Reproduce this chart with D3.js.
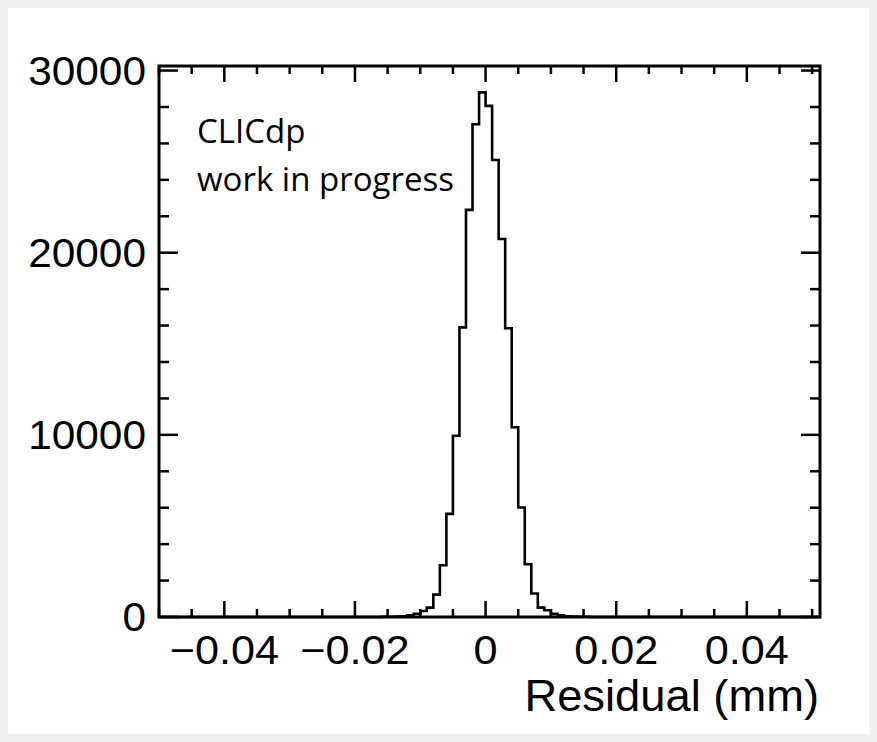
<!DOCTYPE html>
<html>
<head>
<meta charset="utf-8">
<script src="https://cdn.jsdelivr.net/npm/d3@7"></script>
<style>
  html, body { margin: 0; padding: 0; background: #f0f0f0; }
  svg { display: block; }
</style>
</head>
<body>
<svg id="chart" width="877" height="742"></svg>
<script>
// ---- data ----
const binLow = -0.016;         // lower edge of first listed bin (mm)
const binWidth = 0.001;        // bin width (mm)
const counts = [
  10, 15, 25, 45, 90, 180, 330, 516, 1230, 2840, 5660, 9950, 15900, 22350, 27050, 28800,
  28060, 25090, 20750, 15850, 10420, 6010, 2900, 1290, 516, 370, 170, 90, 45, 25, 15, 10
];
const xDomain = [-0.05, 0.0512];
const yDomain = [0, 30250];
const xMajorTicks = [-0.04, -0.02, 0, 0.02, 0.04];
const xTickLabels = ["\u22120.04", "\u22120.02", "0", "0.02", "0.04"];
const xMinorStep = 0.005;
const yMajorTicks = [0, 10000, 20000, 30000];
const yTickLabels = ["0", "10000", "20000", "30000"];
const yMinorStep = 2000;
const xTitle = "Residual (mm)";
const annotation = ["CLICdp", "work in progress"];

// ---- layout ----
const svg = d3.select("#chart");
svg.append("rect").attr("x", 8).attr("y", 8).attr("width", 861).attr("height", 726).attr("fill", "#ffffff");

const L = 159, R = 820, T = 66, B = 617;
const x = d3.scaleLinear().domain(xDomain).range([L, R]);
const y = d3.scaleLinear().domain(yDomain).range([B, T]);

const g = svg.append("g");

// histogram step line
const pts = [[xDomain[0], 0]];
counts.forEach((c, i) => {
  const lo = binLow + i * binWidth, hi = lo + binWidth;
  pts.push([lo, i === 0 ? 0 : counts[i - 1]]);
  pts.push([lo, c]);
  if (i === counts.length - 1) { pts.push([hi, c]); pts.push([hi, 0]); }
});
pts.push([xDomain[1], 0]);
const line = d3.line().x(d => x(d[0])).y(d => y(d[1]));
g.append("path").attr("d", line(pts)).attr("fill", "none")
  .attr("stroke", "#000").attr("stroke-width", 2.6).attr("stroke-linejoin", "miter");

// ticks
const tickG = g.append("g").attr("stroke", "#000").attr("stroke-width", 2.5);
const xMinor = d3.range(Math.ceil(xDomain[0] / xMinorStep) * xMinorStep, xDomain[1] + 1e-9, xMinorStep)
  .filter(v => !xMajorTicks.some(m => Math.abs(m - v) < 1e-9));
xMajorTicks.forEach(v => {
  tickG.append("line").attr("x1", x(v)).attr("x2", x(v)).attr("y1", B).attr("y2", B - 16);
  tickG.append("line").attr("x1", x(v)).attr("x2", x(v)).attr("y1", T).attr("y2", T + 16);
});
xMinor.forEach(v => {
  tickG.append("line").attr("x1", x(v)).attr("x2", x(v)).attr("y1", B).attr("y2", B - 8);
  tickG.append("line").attr("x1", x(v)).attr("x2", x(v)).attr("y1", T).attr("y2", T + 8);
});
const yMinor = d3.range(0, yDomain[1], yMinorStep).filter(v => !yMajorTicks.includes(v));
yMajorTicks.forEach(v => {
  tickG.append("line").attr("x1", L).attr("x2", L + 19).attr("y1", y(v)).attr("y2", y(v));
  tickG.append("line").attr("x1", R).attr("x2", R - 19).attr("y1", y(v)).attr("y2", y(v));
});
yMinor.forEach(v => {
  tickG.append("line").attr("x1", L).attr("x2", L + 10).attr("y1", y(v)).attr("y2", y(v));
  tickG.append("line").attr("x1", R).attr("x2", R - 10).attr("y1", y(v)).attr("y2", y(v));
});

// frame
g.append("rect").attr("x", L).attr("y", T).attr("width", R - L).attr("height", B - T)
  .attr("fill", "none").attr("stroke", "#000").attr("stroke-width", 3);

// tick labels
const font = "'Liberation Sans', Arial, Helvetica, sans-serif";
xMajorTicks.forEach((v, i) => {
  g.append("text").attr("transform", `translate(${x(v)},664) scale(1.08,1)`).attr("text-anchor", "middle")
    .attr("font-family", font).attr("font-size", 40).attr("fill", "#000").text(xTickLabels[i]);
});
yMajorTicks.forEach((v, i) => {
  g.append("text").attr("transform", `translate(146,${y(v) + 14}) scale(1.06,1)`).attr("text-anchor", "end")
    .attr("font-family", font).attr("font-size", 40).attr("fill", "#000").text(yTickLabels[i]);
});

// axis title
g.append("text").attr("transform", "translate(819,711) scale(1.03,1)").attr("text-anchor", "end")
  .attr("font-family", font).attr("font-size", 44).attr("fill", "#000").text(xTitle);

// annotation
annotation.forEach((t, i) => {
  g.append("text").attr("x", 197).attr("y", 143 + i * 48)
    .attr("font-family", "'Open Sans', 'Noto Sans', sans-serif").attr("font-size", 33)
    .attr("fill", "#000").text(t);
});
</script>
</body>
</html>
